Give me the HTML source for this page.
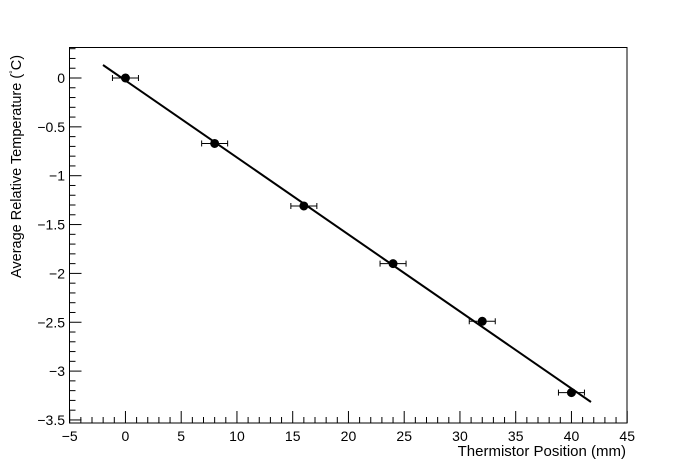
<!DOCTYPE html><html><head><style>body{margin:0;background:#fff}svg{display:block}text{font-family:"Liberation Sans",sans-serif;font-size:14px;fill:#000}</style></head><body>
<svg width="696" height="472" viewBox="0 0 696 472">
<rect x="0" y="0" width="696" height="472" fill="#fff"/>
<rect x="69.5" y="47.5" width="557.5" height="375.5" fill="none" stroke="#000" stroke-width="1"/>
<g id="xt" stroke="#000"></g><g id="yt" stroke="#000"></g><g id="lbl"></g>
<text x="626" y="456" text-anchor="end" style="font-size:15px">Thermistor Position (mm)</text>
<text transform="translate(21,278) rotate(-90)" style="font-size:14.5px">Average Relative Temperature (<tspan style="font-size:9px" dy="-5">°</tspan><tspan dy="5">C)</tspan></text>
<line x1="103" y1="65" x2="591" y2="402" stroke="#000" stroke-width="2"/>
<g id="pts" stroke="#000"></g>
</svg>
<script>
var X=v=>69.7+(v+5)*11.15, Y=v=>78-v*97.7;
var ns="http://www.w3.org/2000/svg";
function el(p,t,a,tx){var e=document.createElementNS(ns,t);for(var k in a)e.setAttribute(k,a[k]);if(tx!==undefined)e.textContent=tx;document.getElementById(p).appendChild(e);}
for(var v=-5;v<=45;v++){var x=X(v),L=v%5==0?12:6;el('xt','line',{x1:x,y1:423,x2:x,y2:423-L});if(v%5==0)el('lbl','text',{x:x,y:441,'text-anchor':'middle'},(v<0?'\u2212':'')+Math.abs(v));}
for(var i=-35;i<=3;i++){var v=i/10,y=Y(v),L=i%5==0?12:6;el('yt','line',{x1:69.5,y1:y,x2:69.5+L,y2:y});if(i%5==0)el('lbl','text',{x:65,y:y+5,'text-anchor':'end'},(v<0?'\u2212':'')+Math.abs(v));}
[[0,0],[8,-0.67],[16,-1.31],[24,-1.9],[32,-2.49],[40,-3.22]].forEach(function(p){var x=X(p[0]),y=Y(p[1]);el('pts','line',{x1:x-13,y1:y,x2:x+13,y2:y});el('pts','line',{x1:x-13,y1:y-3,x2:x-13,y2:y+3});el('pts','line',{x1:x+13,y1:y-3,x2:x+13,y2:y+3});el('pts','circle',{cx:x,cy:y,r:4,fill:'#000'});});
</script>
</body></html>
